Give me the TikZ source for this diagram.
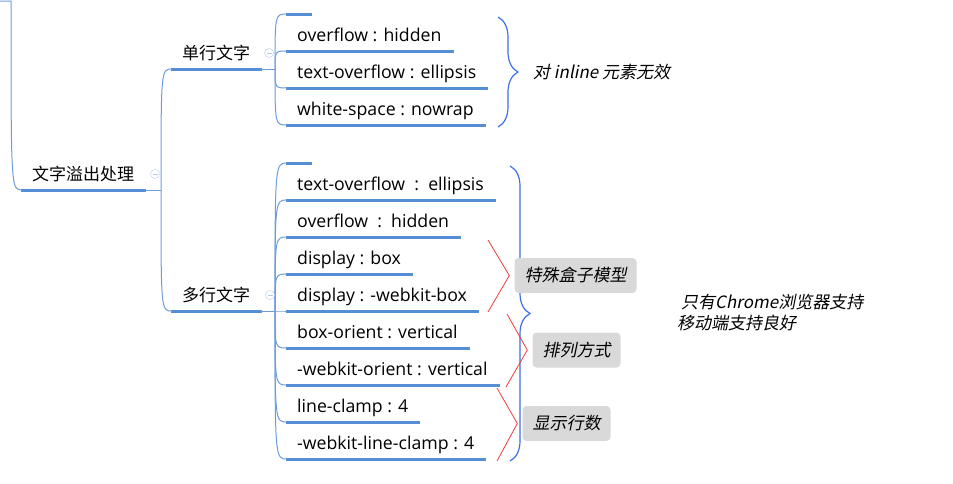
\documentclass[tikz,border=0pt]{standalone}
\usepackage{fontspec}
\setmainfont{Open Sans}
\newfontfamily\cjk{Noto Sans CJK SC}
\newfontfamily\cjkit[FakeSlant=0.2]{Noto Sans CJK SC}
\usetikzlibrary{decorations.pathreplacing}
\definecolor{barblue}{HTML}{558ED5}
\definecolor{linkblue}{HTML}{6C9CDB}
\definecolor{braceblue}{HTML}{3D6FE6}
\definecolor{foldblue}{HTML}{B4CBEC}
\definecolor{tagfill}{HTML}{D9D9D9}
\definecolor{bracketred}{HTML}{F03C3C}
\tikzset{
  bar/.style={draw=barblue, line width=3pt},
  link/.style={draw=linkblue, line width=1pt},
  topic/.style={anchor=south west, inner xsep=10pt, inner ysep=5.5pt, text height=12pt, text depth=4pt,
    font=\fontsize{17.7}{20}\selectfont,
    append after command={([xshift=-1pt]\tikzlastnode.south west) edge[bar] ([xshift=2pt]\tikzlastnode.south east)}},
  cntopic/.style={topic, font=\cjk\fontsize{17}{20}\selectfont},
  fold/.style={circle, draw=foldblue, fill=white, minimum size=9pt, inner sep=0pt,
    path picture={\draw[foldblue] ([xshift=-2.5pt]path picture bounding box.center) -- ([xshift=2.5pt]path picture bounding box.center);}},
  curly/.style={draw=braceblue, line width=1.2pt, decorate, decoration={brace, amplitude=20pt}},
  tag/.style={fill=tagfill, rounded corners=4pt, minimum height=35pt, inner xsep=10pt, font=\cjkit\fontsize{17}{20}\selectfont},
  note/.style={inner sep=0pt, font=\cjkit\fontsize{17}{21}\selectfont},
  redline/.style={draw=bracketred, line width=0.8pt}
}
\begin{document}
\begin{tikzpicture}[x=1pt,y=-1pt]
  \useasboundingbox (0,0) rectangle (953,483);
  \node[cntopic] (root) at (22,190) {文字溢出处理};
  \node[cntopic] (single) at (172,69) {单行文字};
  \node[cntopic] (multi) at (172,311) {多行文字};
  \foreach \n/\y/\t in {s0/14/{}, s1/51/overflow : hidden, s2/88/text-overflow : ellipsis, s3/125/white-space : nowrap}
    \node[topic, minimum width=23pt] (\n) at (287,\y) {\t};
  \foreach \n/\y/\t in {m0/163/{}, m1/200/text-overflow\ \ :\ \ ellipsis, m2/237/overflow\ \ :\ \ hidden,
      m3/274/display : box, m4/311/display : -webkit-box, m5/348/box-orient : vertical,
      m6/385/-webkit-orient : vertical, m7/422/line-clamp : 4, m8/459/-webkit-line-clamp : 4}
    \node[topic, minimum width=23pt] (\n) at (287,\y) {\t};
  \coordinate (top) at (0,1);
  \coordinate (tb) at (11,1);
  \coordinate (rb) at (161,190);
  \coordinate (sb) at (275,69);
  \coordinate (mb) at (275,311);
  \draw[link] (top) -- (tb) .. controls (tb |- root.south west) .. (root.south west);
  \draw[link] (root.south east) -- (rb);
  \foreach \n in {single,multi}
    \draw[link] (rb) .. controls (rb |- \n.south west) .. (\n.south west);
  \draw[link] (single.south east) -- (sb);
  \foreach \n in {s0,s1,s2,s3}
    \draw[link] (sb) .. controls (sb |- \n.south west) .. (\n.south west);
  \draw[link] (multi.south east) -- (mb);
  \foreach \n in {m0,m1,m2,m3,m4,m5,m6,m7,m8}
    \draw[link] (mb) .. controls (mb |- \n.south west) .. (\n.south west);
  \node[fold] (f1) at (155,174) {};
  \node[fold] (f2) at (269,53) {};
  \node[fold] (f3) at (270,295) {};
  \draw[curly] (498,17) -- (498,127);
  \node[note, anchor=west] (inl) at (533,72) {对 inline 元素无效};
  \draw[curly] (510,166) -- (510,461);
  \node[tag] (box) at (575.5,275.5) {特殊盒子模型};
  \node[tag] (order) at (576.5,350) {排列方式};
  \node[tag] (lines) at (566.5,423.5) {显示行数};
  \draw[redline] (488,240) -- ([xshift=-5pt]box.west) -- (488,312);
  \draw[redline] (507,314) -- ([xshift=-5pt]order.west) -- (506,387);
  \draw[redline] (497,388) -- ([xshift=-5pt]lines.west) -- (497,461);
  \node[note, anchor=north west, align=left] (chrome) at (677,293.5) {\hspace*{4pt}只有Chrome浏览器支持\\移动端支持良好};
\end{tikzpicture}
\end{document}
